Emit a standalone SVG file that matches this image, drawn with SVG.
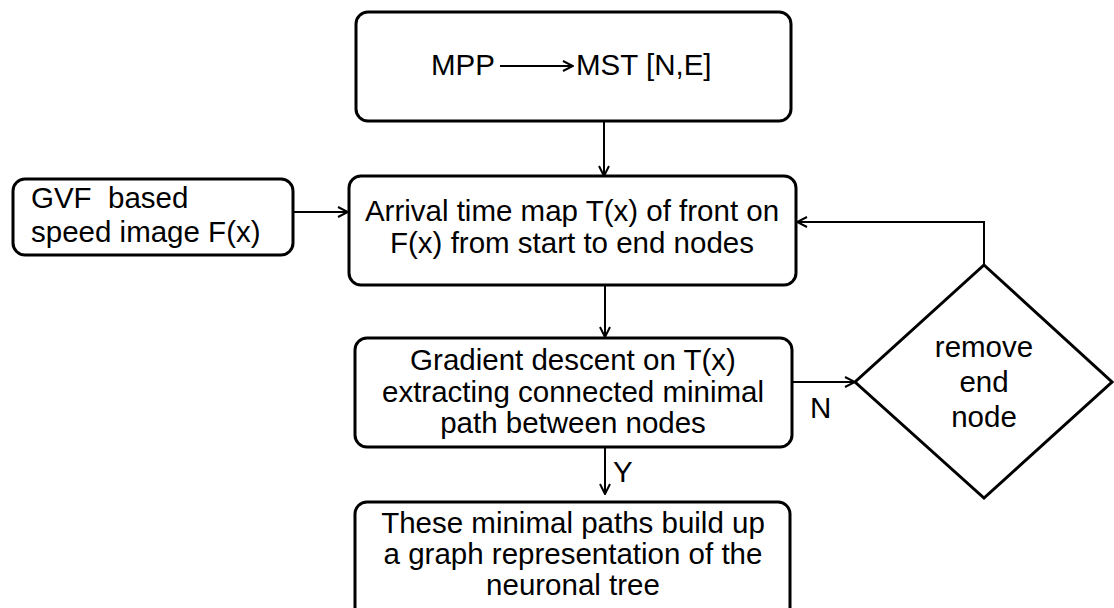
<svg xmlns="http://www.w3.org/2000/svg" width="1114" height="608" viewBox="0 0 1114 608">
<style>
.box{fill:#fff;stroke:#000;stroke-width:3}
.ln{fill:none;stroke:#000;stroke-width:2}
text{font-family:"Liberation Sans",Arial,sans-serif;font-size:29.5px;fill:#000}
.c{text-anchor:middle}
</style>
<defs>
<marker id="ah" viewBox="0 0 12 12" refX="11" refY="6" markerWidth="12" markerHeight="12" markerUnits="userSpaceOnUse" orient="auto">
<path d="M1,1 L11,6 L1,11" fill="none" stroke="#000" stroke-width="2"/>
</marker>
</defs>
<rect width="1114" height="608" fill="#fff"/>
<g id="connectors">
<line class="ln" x1="604" y1="121" x2="604" y2="176" marker-end="url(#ah)"/>
<line class="ln" x1="293" y1="212" x2="348" y2="212" marker-end="url(#ah)"/>
<line class="ln" x1="605" y1="285" x2="605" y2="337" marker-end="url(#ah)"/>
<line class="ln" x1="605" y1="447" x2="605" y2="494" marker-end="url(#ah)"/>
<line class="ln" x1="792" y1="382" x2="855" y2="382" marker-end="url(#ah)"/>
<polyline class="ln" points="984,265 984,222 797,222" marker-end="url(#ah)"/>
<text x="613" y="482">Y</text>
<text x="810" y="418">N</text>
</g>
<g id="mpp">
<rect class="box" x="356" y="12" width="435" height="109" rx="12"/>
<text x="431" y="75">MPP</text>
<line class="ln" x1="500" y1="66" x2="573" y2="66" stroke-width="1.5" marker-end="url(#ah)"/>
<text x="576" y="75">MST [N,E]</text>
</g>
<g id="gvf">
<rect class="box" x="13" y="179" width="280" height="76" rx="12"/>
<text x="31" y="208">GVF&#160; based</text>
<text x="31" y="242">speed image F(x)</text>
</g>
<g id="arrival">
<rect class="box" x="349" y="176" width="447" height="109" rx="12"/>
<text class="c" x="572" y="221">Arrival time map T(x) of front on</text>
<text class="c" x="572" y="253">F(x) from start to end nodes</text>
</g>
<g id="gradient">
<rect class="box" x="355" y="338" width="437" height="109" rx="12"/>
<text class="c" x="573" y="370">Gradient descent on T(x)</text>
<text class="c" x="573" y="402">extracting connected minimal</text>
<text class="c" x="573" y="433">path between nodes</text>
</g>
<g id="remove">
<polygon class="box" points="984,265 1112,382 984,498 855,382"/>
<text class="c" x="984" y="357">remove</text>
<text class="c" x="984" y="392">end</text>
<text class="c" x="984" y="427">node</text>
</g>
<g id="graph">
<rect class="box" x="355" y="502" width="435" height="120" rx="12"/>
<text class="c" x="573" y="533">These minimal paths build up</text>
<text class="c" x="573" y="564">a graph representation of the</text>
<text class="c" x="573" y="595">neuronal tree</text>
</g>
</svg>
